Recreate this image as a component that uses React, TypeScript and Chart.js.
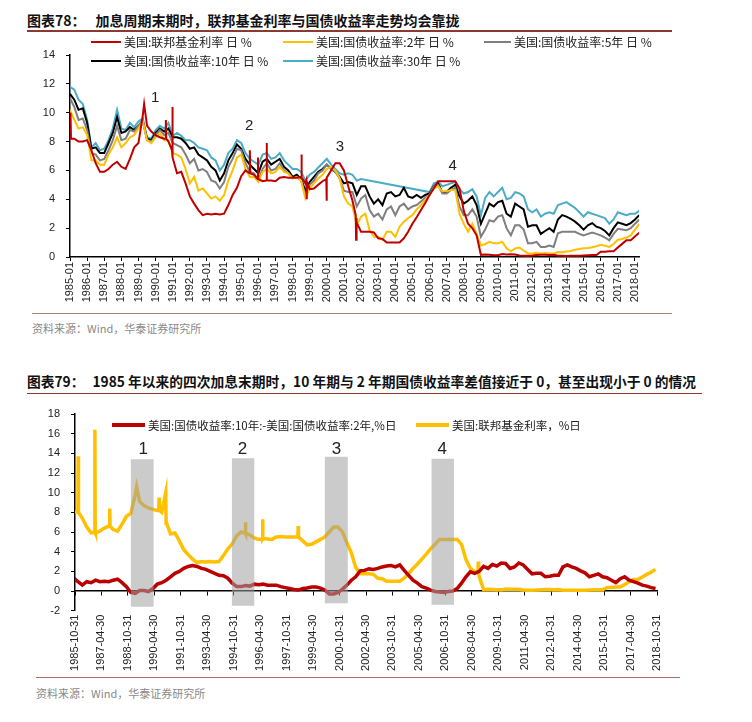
import React, { useEffect, useRef } from 'react';
import { Chart, registerables } from 'chart.js';

Chart.register(...registerables);

// ---------- sample dates (quarter starts, decimal years 1985.00 … 2018.75) ----------
const quarterStarts: number[] = [];
for (let yr = 1985; yr <= 2018; yr++) for (let q = 0; q < 4; q++) quarterStarts.push(yr + q / 4);

// ---------- series (quarterly readings) ----------
const fedFunds = [
  8.3, 8.2, 8.0, 8.0, 8.1, 7.4, 6.5, 5.9, 5.9, 6.1, 6.4, 6.6, 6.25, 6.1, 6.8, 7.6,
  7.9, 9.8, 9.1, 8.7, 8.45, 8.3, 8.2, 8.0, 6.9, 5.8, 5.9, 5.1, 4.2, 3.7, 3.25, 2.9,
  3.0, 2.95, 3.0, 2.95, 3.0, 3.6, 4.3, 4.8, 5.6, 6.0, 5.8, 5.7, 5.4, 5.25, 5.35, 5.3,
  5.25, 5.5, 5.55, 5.5, 5.5, 5.5, 5.55, 5.1, 4.7, 4.75, 5.0, 5.25, 5.5, 6.0, 6.5, 6.5,
  6.0, 4.9, 3.9, 2.4, 1.75, 1.75, 1.75, 1.7, 1.3, 1.25, 1.0, 1.0, 1.0, 1.0, 1.3, 1.75,
  2.3, 2.75, 3.25, 3.75, 4.3, 4.75, 5.25, 5.25, 5.25, 5.25, 5.25, 4.75, 3.2, 2.3, 2.0, 1.5,
  0.15, 0.18, 0.16, 0.12, 0.12, 0.2, 0.18, 0.19, 0.17, 0.1, 0.08, 0.08, 0.1, 0.14, 0.16, 0.15,
  0.14, 0.15, 0.09, 0.08, 0.07, 0.09, 0.09, 0.09, 0.11, 0.12, 0.13, 0.13, 0.37, 0.37, 0.4, 0.4,
  0.66, 0.91, 1.16, 1.16, 1.42, 1.69, 1.91, 2.2,
];
// short-lived daily spikes (top chart)
const fedTopSpikeDates = [
  1985.03, 1985.06, 1989.33, 1990.58, 1990.6, 1990.62, 1990.96, 1990.98,
  1995.49, 1995.51, 1995.53, 1995.96, 1995.98, 1996.0,
  1996.47, 1996.49, 1996.51, 1998.51, 1998.53, 1998.55, 1998.8, 1998.82, 1998.84,
  1999.97, 1999.99, 2001.69, 2001.71, 2001.73,
];
const fedTopSpikeValues = [
  10.0, 8.2, 10.6, 8.2, 9.5, 8.2, 7.4, 10.4,
  5.8, 7.4, 5.8, 5.4, 6.9, 5.4,
  5.3, 7.9, 5.3, 5.5, 7.1, 5.5, 5.3, 4.0, 5.2,
  5.4, 3.9, 2.9, 1.2, 2.7,
];
// short-lived daily spikes (bottom chart)
const fedBottomSpikeDates = [
  1986.01, 1986.03, 1986.94, 1986.96, 1986.98, 1987.78, 1987.8, 1987.82, 1989.33,
  1990.58, 1990.6, 1990.62, 1990.98, 1991.01, 1995.48, 1995.5, 1995.52,
  1996.45, 1996.47, 1996.49, 1998.47, 1998.49, 1998.51, 2008.68, 2008.7, 2008.72,
];
const fedBottomSpikeValues = [
  13.7, 8.0, 6.0, 16.4, 6.0, 6.7, 8.4, 6.6, 10.6,
  8.2, 9.5, 8.2, 10.0, 7.0, 5.9, 7.0, 5.9,
  5.3, 7.3, 5.3, 5.5, 6.6, 5.5, 1.9, 3.0, 1.8,
];

const ust2y = [
  10.2, 9.5, 8.9, 9.0, 8.45, 6.7, 6.7, 6.4, 6.4, 7.1, 7.6, 8.3, 7.6, 7.9, 8.3, 8.45,
  8.9, 9.4, 8.1, 7.9, 8.3, 8.6, 8.1, 8.1, 7.2, 7.1, 6.9, 6.1, 5.1, 5.55, 4.6, 4.75,
  4.4, 4.05, 4.2, 3.9, 4.3, 5.3, 6.0, 6.9, 7.1, 6.1, 5.55, 5.55, 5.2, 5.9, 6.1, 5.8,
  5.9, 6.25, 5.9, 5.8, 5.45, 5.55, 5.3, 4.05, 4.75, 5.1, 5.45, 5.7, 6.1, 6.25, 6.0, 5.45,
  4.2, 3.7, 3.5, 2.2, 2.8, 3.0, 1.85, 1.4, 1.4, 1.2, 1.75, 1.75, 1.4, 2.1, 2.45, 2.7,
  2.9, 3.3, 3.6, 3.95, 4.3, 4.75, 4.9, 4.55, 4.55, 4.65, 4.65, 3.0, 2.3, 1.75, 2.3, 1.6,
  0.8, 0.9, 1.05, 0.95, 0.95, 1.05, 0.6, 0.4, 0.6, 0.65, 0.45, 0.25, 0.25, 0.3, 0.25, 0.27,
  0.25, 0.23, 0.35, 0.33, 0.38, 0.42, 0.5, 0.55, 0.6, 0.62, 0.67, 0.75, 0.85, 0.78, 0.7, 0.9,
  1.2, 1.25, 1.35, 1.5, 1.9, 2.3,
];
const ust5y = [
  11.0, 10.4, 9.5, 9.6, 8.8, 7.2, 7.1, 6.7, 6.8, 7.4, 8.1, 9.1, 8.1, 8.2, 8.8, 8.7,
  9.1, 9.5, 8.1, 8.0, 8.45, 8.8, 8.45, 8.6, 7.9, 7.75, 7.6, 7.1, 6.5, 6.8, 6.0, 6.1,
  5.9, 5.3, 5.2, 4.75, 5.2, 6.25, 6.8, 7.5, 7.4, 6.5, 5.9, 5.8, 5.3, 6.1, 6.5, 6.0,
  6.1, 6.5, 6.0, 5.8, 5.45, 5.55, 5.3, 4.3, 5.0, 5.3, 5.8, 6.0, 6.4, 6.1, 5.9, 5.45,
  4.6, 4.5, 4.5, 3.5, 4.05, 4.3, 3.25, 2.8, 3.0, 2.6, 3.3, 3.5, 2.9, 3.5, 3.7, 3.3,
  3.5, 3.6, 3.85, 4.1, 4.3, 4.9, 5.0, 4.4, 4.4, 4.65, 4.8, 3.5, 2.9, 2.9, 3.3, 2.8,
  1.4, 1.9, 2.55, 2.45, 2.8, 2.9, 2.0, 1.5, 2.2, 2.2, 1.9, 0.95, 0.95, 1.05, 0.7, 0.7,
  0.8, 0.7, 1.65, 1.75, 1.75, 1.75, 1.75, 1.6, 1.5, 1.6, 1.7, 1.6, 1.5, 1.35, 1.15, 1.6,
  1.95, 1.9, 1.85, 2.0, 2.3, 2.6,
];
const ust10y = [
  11.3, 10.9, 10.2, 10.3, 9.3, 7.5, 7.6, 7.2, 7.2, 7.9, 8.6, 9.7, 8.6, 8.7, 9.0, 8.8,
  9.1, 9.4, 8.2, 8.1, 8.6, 8.9, 8.7, 8.9, 8.3, 8.3, 8.2, 7.9, 7.5, 7.6, 7.1, 6.9,
  6.7, 6.25, 6.0, 5.3, 5.8, 6.7, 7.2, 7.8, 7.5, 6.8, 6.4, 6.1, 5.8, 6.6, 6.8, 6.4,
  6.6, 6.8, 6.25, 6.0, 5.55, 5.7, 5.4, 4.6, 5.2, 5.55, 5.9, 6.1, 6.4, 6.1, 5.9, 5.55,
  5.1, 5.2, 5.1, 4.3, 4.9, 4.9, 4.2, 3.7, 4.0, 3.6, 4.4, 4.5, 4.2, 4.3, 4.8, 4.2,
  4.1, 4.3, 4.1, 4.3, 4.4, 4.9, 5.1, 4.5, 4.5, 4.8, 5.0, 4.2, 3.7, 3.9, 4.2, 3.6,
  2.3, 3.0, 3.7, 3.5, 3.8, 3.9, 3.0, 2.8, 3.7, 3.5, 3.3, 2.1, 2.2, 2.2, 1.6, 1.8,
  2.0, 1.75, 2.6, 2.9, 2.8, 2.65, 2.45, 2.2, 1.9, 2.2, 2.35, 2.1, 2.0, 1.8, 1.5, 2.0,
  2.4, 2.3, 2.2, 2.35, 2.6, 2.9,
];
const ust30y = [
  11.8, 11.6, 10.9, 10.6, 9.5, 7.6, 7.9, 7.4, 7.5, 8.1, 8.9, 10.2, 8.9, 8.8, 9.3, 9.0,
  9.4, 9.6, 8.3, 8.2, 8.8, 9.1, 8.9, 9.3, 8.4, 8.6, 8.4, 8.1, 8.1, 7.9, 7.6, 7.5,
  7.4, 6.9, 6.7, 6.0, 6.4, 7.2, 7.5, 8.1, 7.9, 7.2, 6.8, 6.6, 6.4, 7.1, 7.2, 6.8,
  6.9, 7.2, 6.7, 6.4, 6.1, 6.1, 5.9, 5.3, 5.7, 5.9, 6.2, 6.5, 6.8, 6.4, 6.1, 5.8,
  5.7, 5.8, 5.7, 5.3, 5.4, null, null, null, null, null, null, null, null, null, null, null,
  null, null, null, null, 4.5, 5.1, 5.2, 4.9, 5.0, 5.1, 5.2, 4.7, 4.4, 4.5, 4.7, 4.2,
  2.9, 4.1, 4.5, 4.2, 4.5, 4.8, 4.0, 4.1, 4.5, 4.4, 4.2, 3.3, 3.1, 3.3, 2.8, 3.0,
  3.1, 3.0, 3.6, 3.7, 3.8, 3.6, 3.4, 3.1, 2.8, 3.1, 3.0, 2.9, 2.8, 2.7, 2.3, 2.6,
  3.1, 3.0, 2.9, 3.0, 3.0, 3.2,
];
const spread10y2y = [
  null, null, null, 1.35, 0.95, 0.6, 0.95, 0.85, 1.1, 0.95, 1.0, 0.95, 1.1, 1.2, 0.85, 0.45,
  -0.15, -0.25, 0.05, 0.05, -0.05, 0.25, 0.7, 0.85, 1.1, 1.45, 1.8, 2.0, 2.3, 2.5, 2.6, 2.5,
  2.3, 2.2, 2.0, 1.8, 1.6, 1.55, 1.3, 0.8, 0.45, 0.45, 0.55, 0.5, 0.7, 0.65, 0.7, 0.6,
  0.6, 0.6, 0.45, 0.35, 0.25, 0.15, 0.1, 0.25, 0.3, 0.4, 0.4, 0.3, 0.1, -0.3, -0.3, -0.15,
  0.2, 0.6, 1.1, 1.45, 2.05, 2.1, 2.25, 2.2, 2.3, 2.45, 2.55, 2.6, 2.45, 2.65, 2.1, 1.6,
  1.1, 0.8, 0.45, 0.3, 0.1, -0.05, -0.1, -0.15, -0.05, 0.0, 0.25, 0.8, 1.45, 1.95, 1.8, 2.0,
  2.5, 2.3, 2.7, 2.55, 2.85, 2.8, 2.3, 2.45, 2.85, 2.65, 2.2, 1.75, 1.8, 1.8, 1.45, 1.5,
  1.6, 1.6, 2.45, 2.65, 2.45, 2.3, 2.05, 1.85, 1.45, 1.6, 1.75, 1.45, 1.35, 1.1, 0.85, 1.25,
  1.45, 1.1, 0.95, 0.8, 0.6, 0.5, 0.35, 0.25,
];

// ---------- tick labels ----------
const topTickLabels = [
  '1985-01', '1986-01', '1987-01', '1988-01', '1989-01', '1990-01', '1991-01', '1992-01', '1993-01',
  '1994-01', '1995-01', '1996-01', '1997-01', '1998-01', '1999-01', '2000-01', '2001-01', '2002-01',
  '2003-01', '2004-01', '2005-01', '2006-01', '2007-01', '2008-01', '2009-01', '2010-01', '2011-01',
  '2012-01', '2013-01', '2014-01', '2015-01', '2016-01', '2017-01', '2018-01',
];
const bottomTickLabels = [
  '1985-10-31', '1987-04-30', '1988-10-31', '1990-04-30', '1991-10-31', '1993-04-30', '1994-10-31',
  '1996-04-30', '1997-10-31', '1999-04-30', '2000-10-31', '2002-04-30', '2003-10-31', '2005-04-30',
  '2006-10-31', '2008-04-30', '2009-10-31', '2011-04-30', '2012-10-31', '2014-04-30', '2015-10-31',
  '2017-04-30', '2018-10-31',
];

// ---------- annotations ----------
const cycleNames = ['1', '2', '3', '4'];
const topCycleDates = [1989.97, 1995.47, 2000.77, 2007.35];
const topCycleLevels = [11.0, 9.1, 7.6, 6.3];
const bandStarts = [1989.0, 1994.73, 2000.0, 2006.05];
const bandEnds = [1990.29, 1996.0, 2001.3, 2007.32];
const bandTops = [13.4, 13.5, 13.65, 13.45];
const bandBottoms = [-1.6, -1.5, -1.25, -1.4];
const bandLabelDates = [1989.7, 1995.33, 2000.66, 2006.66];
const bandLabelLevel = 14.45;

// ---------- helpers ----------
const dateToYear = (s: string) => {
  const [y, m, d] = s.split('-').map(Number);
  if (!d) return y + (m - 1) / 12;
  const dim = new Date(y, m, 0).getDate();
  return y + (m - 1) / 12 + d / (dim * 12);
};
function toPoints(values: (number | null)[], extraT: number[] = [], extraV: number[] = []) {
  const pts: { x: number; y: number | null }[] = values.map((v, i) => ({ x: quarterStarts[i], y: v }));
  extraT.forEach((t, i) => pts.push({ x: t, y: extraV[i] }));
  pts.sort((a, b) => a.x - b.x);
  return pts;
}

const AXIS_FONT = { family: '"Liberation Sans", Arial, sans-serif', size: 11 };
const CJK = '"Noto Sans CJK SC", "Noto Sans", sans-serif';

const topLabelsPlugin = {
  id: 'topCycleLabels',
  afterDraw(chart: any) {
    const { ctx, scales } = chart;
    ctx.save();
    ctx.fillStyle = '#222';
    ctx.font = '15px "Liberation Sans", Arial, sans-serif';
    ctx.textAlign = 'center';
    ctx.textBaseline = 'middle';
    cycleNames.forEach((n, i) => {
      ctx.fillText(n, scales.x.getPixelForValue(topCycleDates[i]), scales.y.getPixelForValue(topCycleLevels[i]));
    });
    ctx.restore();
  },
};

const bandsPlugin = {
  id: 'hikeBands',
  afterDatasetsDraw(chart: any) {
    const { ctx, scales } = chart;
    ctx.save();
    ctx.fillStyle = 'rgba(160,160,160,0.55)';
    bandStarts.forEach((s, i) => {
      const x0 = scales.x.getPixelForValue(s);
      const x1 = scales.x.getPixelForValue(bandEnds[i]);
      const y0 = scales.y.getPixelForValue(bandTops[i]);
      const y1 = scales.y.getPixelForValue(bandBottoms[i]);
      ctx.fillRect(x0, y0, x1 - x0, y1 - y0);
    });
    ctx.fillStyle = '#222';
    ctx.font = '17px "Liberation Sans", Arial, sans-serif';
    ctx.textAlign = 'center';
    ctx.textBaseline = 'middle';
    cycleNames.forEach((n, i) => {
      ctx.fillText(n, scales.x.getPixelForValue(bandLabelDates[i]), scales.y.getPixelForValue(bandLabelLevel));
    });
    ctx.restore();
  },
};

function LegendItem(props: { left: number; top: number; color: string; lineW: number; thick: number; text: string; size: number }) {
  const { left, top, color, lineW, thick, text, size } = props;
  return (
    <div style={{ position: 'absolute', left, top: top - 9, height: 18, display: 'flex', alignItems: 'center', whiteSpace: 'nowrap' }}>
      <div style={{ width: lineW, height: thick, background: color, marginRight: 3 }} />
      <span style={{ fontFamily: CJK, fontSize: size, color: '#222', lineHeight: '18px' }}>{text}</span>
    </div>
  );
}

export default function App() {
  const topRef = useRef<HTMLCanvasElement>(null);
  const botRef = useRef<HTMLCanvasElement>(null);

  useEffect(() => {
    const topTicks = topTickLabels.map(dateToYear);
    const botTicks = bottomTickLabels.map(dateToYear);

    const lineDs = (label: string, data: any[], color: string, width: number, extra: any = {}) => ({
      label, data, borderColor: color, backgroundColor: color, borderWidth: width,
      pointRadius: 0, tension: 0, fill: false, ...extra,
    });
    const fixY = (w: number) => (s: any) => { s.width = w; s.paddingTop = 0; s.paddingBottom = 0; };

    const c1 = new Chart(topRef.current as HTMLCanvasElement, {
      type: 'line',
      data: {
        datasets: [
          lineDs('美国:联邦基金利率 日 %', toPoints(fedFunds, fedTopSpikeDates, fedTopSpikeValues), '#C00000', 2),
          lineDs('美国:国债收益率:2年 日 %', toPoints(ust2y), '#FFC000', 2),
          lineDs('美国:国债收益率:5年 日 %', toPoints(ust5y), '#7F7F7F', 2),
          lineDs('美国:国债收益率:10年 日 %', toPoints(ust10y), '#000000', 2),
          lineDs('美国:国债收益率:30年 日 %', toPoints(ust30y), '#4BACC6', 2, { spanGaps: true }),
        ] as any,
      },
      options: {
        animation: false,
        responsive: false,
        layout: { padding: { top: 7, right: 20.75, left: 0, bottom: 0 } },
        plugins: { legend: { display: false }, tooltip: { enabled: false } },
        scales: {
          x: {
            type: 'linear', min: 1985, max: 2018.25,
            afterBuildTicks: (axis: any) => { axis.ticks = topTicks.map((v) => ({ value: v })); },
            afterFit: (s: any) => { s.height = 53; },
            ticks: {
              autoSkip: false, minRotation: 90, maxRotation: 90, padding: 1, color: '#222', font: AXIS_FONT,
              callback: (_v: any, i: number) => topTickLabels[i],
            },
            grid: { drawOnChartArea: false, drawTicks: true, tickLength: 4, color: '#000', lineWidth: 1 },
            border: { display: true, color: '#000', width: 1.5 },
          },
          y: {
            min: 0, max: 14,
            afterFit: fixY(50),
            ticks: { stepSize: 2, padding: 11, color: '#222', font: AXIS_FONT },
            grid: { drawOnChartArea: false, drawTicks: true, tickLength: 4, color: '#000' },
            border: { display: true, color: '#000', width: 1.5 },
          },
        },
      } as any,
      plugins: [topLabelsPlugin],
    });

    const c2 = new Chart(botRef.current as HTMLCanvasElement, {
      type: 'line',
      data: {
        datasets: [
          lineDs('美国:国债收益率:10年:-美国:国债收益率:2年,%日', toPoints(spread10y2y), '#BA0000', 3.5),
          lineDs('美国:联邦基金利率，%日', toPoints(fedFunds, fedBottomSpikeDates, fedBottomSpikeValues), '#FFC000', 3.5),
        ] as any,
      },
      options: {
        animation: false,
        responsive: false,
        layout: { padding: { top: 14, right: 23, left: 0, bottom: 0 } },
        plugins: { legend: { display: false }, tooltip: { enabled: false } },
        scales: {
          x: {
            type: 'linear', min: botTicks[0], max: botTicks[botTicks.length - 1],
            position: { y: 0 },
            afterBuildTicks: (axis: any) => { axis.ticks = botTicks.map((v) => ({ value: v })); },
            ticks: { display: false },
            grid: { drawOnChartArea: false, drawTicks: true, tickLength: 4, color: '#000' },
            border: { display: true, color: '#000', width: 1.5 },
          },
          x2: {
            type: 'linear', position: 'bottom', min: botTicks[0], max: botTicks[botTicks.length - 1],
            afterBuildTicks: (axis: any) => { axis.ticks = botTicks.map((v) => ({ value: v })); },
            afterFit: (s: any) => { s.height = 66.3; },
            ticks: {
              autoSkip: false, minRotation: 90, maxRotation: 90, padding: 4, color: '#222', font: AXIS_FONT,
              callback: (_v: any, i: number) => bottomTickLabels[i],
            },
            grid: { display: false, drawTicks: false },
            border: { display: false },
          },
          y: {
            min: -2, max: 18,
            afterFit: fixY(55),
            ticks: { stepSize: 2, padding: 11, color: '#222', font: AXIS_FONT },
            grid: { drawOnChartArea: false, drawTicks: true, tickLength: 4, color: '#000' },
            border: { display: true, color: '#000', width: 1.5 },
          },
        },
      } as any,
      plugins: [bandsPlugin],
    });

    return () => { c1.destroy(); c2.destroy(); };
  }, []);

  const titleStyle: React.CSSProperties = { position: 'absolute', fontFamily: CJK, fontWeight: 700, color: '#111', whiteSpace: 'nowrap' };
  const srcStyle: React.CSSProperties = { position: 'absolute', fontFamily: CJK, fontSize: 11, color: '#8a8a8a', whiteSpace: 'nowrap', lineHeight: '14px' };

  return (
    <div style={{ position: 'absolute', left: 0, top: 0, width: 752, height: 722, background: '#fff', overflow: 'hidden' }}>
      {/* ---- top figure ---- */}
      <div style={{ ...titleStyle, left: 27, top: 11, fontSize: 14, lineHeight: '18px' }}>
        <span>图表78：</span><span style={{ marginLeft: 10 }}>加息周期末期时，联邦基金利率与国债收益率走势均会靠拢</span>
      </div>
      <div style={{ position: 'absolute', left: 27, top: 30, width: 645, height: 1.5, background: '#8B3A2F' }} />
      <canvas ref={topRef} width={640} height={262} style={{ position: 'absolute', left: 20, top: 48 }} />
      <LegendItem left={91} top={42} color="#C00000" lineW={30} thick={2} size={12} text="美国:联邦基金利率 日 %" />
      <LegendItem left={283} top={42} color="#FFC000" lineW={30} thick={2} size={12} text="美国:国债收益率:2年 日 %" />
      <LegendItem left={484} top={42} color="#7F7F7F" lineW={27} thick={2} size={12} text="美国:国债收益率:5年 日 %" />
      <LegendItem left={91} top={61} color="#000000" lineW={30} thick={2} size={12} text="美国:国债收益率:10年 日 %" />
      <LegendItem left={283} top={61} color="#4BACC6" lineW={30} thick={2} size={12} text="美国:国债收益率:30年 日 %" />
      <div style={{ position: 'absolute', left: 32, top: 312.5, width: 640, height: 1, background: '#A58672' }} />
      <div style={{ ...srcStyle, left: 32, top: 321 }}>资料来源：Wind，华泰证券研究所</div>

      {/* ---- bottom figure ---- */}
      <div style={{ ...titleStyle, left: 27, top: 372, fontSize: 13.75, lineHeight: '18px' }}>
        <span>图表79：</span><span style={{ marginLeft: 8 }}>1985 年以来的四次加息末期时，10 年期与 2 年期国债收益率差值接近于 0，甚至出现小于 0 的情况</span>
      </div>
      <div style={{ position: 'absolute', left: 27, top: 392.5, width: 675, height: 1.5, background: '#8B3A2F' }} />
      <canvas ref={botRef} width={660} height={277} style={{ position: 'absolute', left: 20, top: 400 }} />
      <LegendItem left={112} top={425} color="#BA0000" lineW={33} thick={4} size={11.5} text="美国:国债收益率:10年:-美国:国债收益率:2年,%日" />
      <LegendItem left={416} top={425} color="#FFC000" lineW={33} thick={4} size={11.5} text="美国:联邦基金利率，%日" />
      <div style={{ position: 'absolute', left: 36, top: 677, width: 644, height: 1, background: '#B0706A' }} />
      <div style={{ ...srcStyle, left: 36, top: 686 }}>资料来源：Wind，华泰证券研究所</div>
    </div>
  );
}
